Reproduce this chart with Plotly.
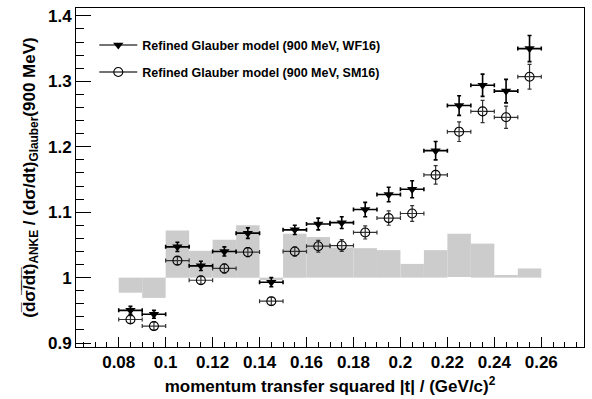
import plotly.graph_objects as go

# |t| bin centres (GeV/c)^2
t_vals = [0.085, 0.095, 0.105, 0.115, 0.125, 0.135, 0.145, 0.155, 0.165,
          0.175, 0.185, 0.195, 0.205, 0.215, 0.225, 0.235, 0.245, 0.255]
t_half = [0.005] * 18

# ratio ANKE / Glauber (WF16)
wf16 = [0.950, 0.944, 1.047, 1.018, 1.040, 1.068, 0.993, 1.073, 1.082,
        1.084, 1.104, 1.127, 1.135, 1.194, 1.263, 1.294, 1.285, 1.350]
wf16_err = [0.006, 0.006, 0.007, 0.007, 0.007, 0.008, 0.007, 0.007, 0.009,
            0.009, 0.011, 0.011, 0.013, 0.014, 0.015, 0.017, 0.018, 0.020]

# ratio ANKE / Glauber (SM16)
sm16 = [0.936, 0.926, 1.026, 0.996, 1.014, 1.039, 0.964, 1.040, 1.048,
        1.049, 1.069, 1.091, 1.098, 1.157, 1.223, 1.254, 1.245, 1.307]
sm16_err = [0.006, 0.006, 0.006, 0.006, 0.007, 0.007, 0.006, 0.007, 0.009,
            0.009, 0.010, 0.011, 0.012, 0.014, 0.015, 0.017, 0.017, 0.019]

# systematic band (lower / upper edge per bin)
band_lo = [0.977, 0.969, 1.000, 1.000, 1.000, 1.000, 0.997, 1.000, 1.000,
           1.000, 1.000, 1.000, 1.000, 1.000, 1.001, 1.000, 1.000, 1.000]
band_hi = [1.000, 1.000, 1.072, 1.041, 1.058, 1.080, 1.000, 1.067, 1.062,
           1.046, 1.045, 1.042, 1.021, 1.042, 1.067, 1.052, 1.004, 1.014]
bin_width = [0.01] * 18

label_wf = "Refined Glauber model (900 MeV, WF16)"
label_sm = "Refined Glauber model (900 MeV, SM16)"

FONT = "Liberation Sans, Arial, Helvetica, sans-serif"

fig = go.Figure()

fig.add_trace(go.Bar(
    x=t_vals, y=[h - l for h, l in zip(band_hi, band_lo)], base=band_lo,
    width=bin_width, marker=dict(color="#cccccc", line=dict(width=0)),
    showlegend=False, hoverinfo="skip"))

fig.add_trace(go.Scatter(
    x=t_vals, y=sm16, mode="markers",
    marker=dict(symbol="circle-open", size=9, color="black",
                line=dict(width=1.1, color="black")),
    error_x=dict(type="data", array=t_half, color="#333333", thickness=1.2, width=2),
    error_y=dict(type="data", array=sm16_err, color="#333333", thickness=1.2, width=2),
    showlegend=False))

fig.add_trace(go.Scatter(
    x=t_vals, y=wf16, mode="markers",
    marker=dict(symbol="triangle-down", size=9, color="black"),
    error_x=dict(type="data", array=t_half, color="black", thickness=1.6, width=2),
    error_y=dict(type="data", array=wf16_err, color="black", thickness=1.6, width=2),
    showlegend=False))

# legend-only entries
fig.add_trace(go.Scatter(
    x=[None], y=[None], mode="lines+markers", name=label_wf,
    line=dict(color="#444444", width=1.5),
    marker=dict(symbol="triangle-down", size=9, color="black"),
    legend="legend"))
fig.add_trace(go.Scatter(
    x=[None], y=[None], mode="lines+markers", name=label_sm,
    line=dict(color="#444444", width=1.5),
    marker=dict(symbol="circle-open", size=9, color="black",
                line=dict(width=1.1, color="black")),
    legend="legend2"))

ytitle = ("(d\u0305\u03c3\u0305/\u0305d\u0305t\u0305)<sub>ANKE</sub>"
          " / (d\u03c3/dt)<sub>Glauber</sub>(900 MeV)")
xtitle = "momentum transfer squared |t| / (GeV/c)<sup>2</sup>"

legend_common = dict(font=dict(family=FONT, size=12.5, color="black", weight="bold"),
                     bgcolor="rgba(0,0,0,0)", borderwidth=0, itemwidth=38,
                     xanchor="left", yanchor="middle")

fig.update_layout(
    width=592, height=399,
    margin=dict(l=76, r=7, t=8, b=47),
    paper_bgcolor="white", plot_bgcolor="white",
    font=dict(family=FONT, color="black", weight="bold"),
    barmode="overlay",
    legend=dict(x=0.036, y=0.8895, **legend_common),
    legend2=dict(x=0.036, y=0.810, **legend_common),
    xaxis=dict(
        range=[0.0618, 0.2782], tick0=0.08, dtick=0.02,
        ticks="inside", ticklen=10, tickwidth=1, tickcolor="black",
        minor=dict(ticks="inside", ticklen=5, tick0=0.06, dtick=0.005,
                   tickcolor="black", tickwidth=1),
        showgrid=False, zeroline=False,
        showline=True, linecolor="black", linewidth=1, mirror=True,
        tickfont=dict(family=FONT, size=17, color="black", weight="bold"),
        title=dict(text=xtitle, standoff=8,
                   font=dict(family=FONT, size=17, color="black", weight="bold")),
    ),
    yaxis=dict(
        range=[0.894, 1.412], tick0=0.9, dtick=0.1,
        ticks="inside", ticklen=15, tickwidth=1, tickcolor="black",
        minor=dict(ticks="inside", ticklen=7.5, tick0=0.9, dtick=0.02,
                   tickcolor="black", tickwidth=1),
        showgrid=False, zeroline=False,
        showline=True, linecolor="black", linewidth=1, mirror=True,
        tickfont=dict(family=FONT, size=17, color="black", weight="bold"),
        title=dict(text=ytitle, standoff=8,
                   font=dict(family=FONT, size=17, color="black", weight="bold")),
    ),
)

fig.write_html("out.html")
